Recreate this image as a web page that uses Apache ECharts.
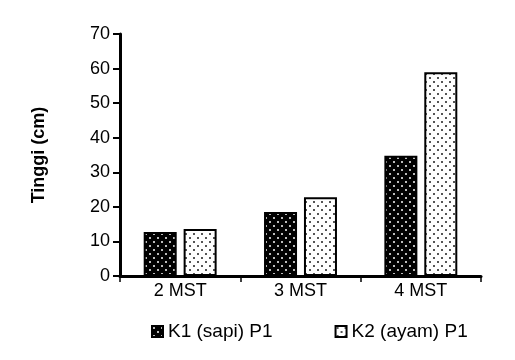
<!DOCTYPE html>
<html><head><meta charset="utf-8">
<script src="https://cdn.jsdelivr.net/npm/echarts@6/dist/echarts.min.js"></script>
<style>html,body{margin:0;padding:0;background:#fff}#c{width:515px;height:360px}</style>
</head><body><div id="c"></div>
<script>
const categories = ['2 MST', '3 MST', '4 MST'];
const k1Values = [12.7, 18.5, 34.8];
const k2Values = [13.6, 22.8, 58.9];
const seriesNames = ['K1 (sapi) P1', 'K2 (ayam) P1'];
const yMin = 0, yMax = 70, yStep = 10;
const yTitle = 'Tinggi (cm)';

function makePattern(bg, dot) {
  const c = document.createElement('canvas');
  c.width = 8; c.height = 8;
  const g = c.getContext('2d');
  g.fillStyle = bg; g.fillRect(0, 0, 8, 8);
  g.fillStyle = dot;
  g.fillRect(1, 1, 2, 2);
  g.fillRect(5, 5, 2, 2);
  return c;
}
const darkPat = { image: makePattern('#000', '#bbb'), repeat: 'repeat' };
const lightPat = { image: makePattern('#fff', '#555'), repeat: 'repeat' };
const FONT = 'Liberation Sans, Arial, sans-serif';

const chart = echarts.init(document.getElementById('c'), null, { renderer: 'canvas' });
chart.setOption({
  animation: false,
  backgroundColor: '#fff',
  grid: { left: 120, right: 34, top: 34, bottom: 84, containLabel: false },
  legend: {
    top: 317, left: 146, itemGap: 62, icon: 'rect',
    itemWidth: 11, itemHeight: 11,
    textStyle: { fontFamily: FONT, fontSize: 19, color: '#000' },
    data: seriesNames
  },
  xAxis: {
    type: 'category', data: categories,
    axisLine: { lineStyle: { color: '#000', width: 3 } },
    axisTick: { show: true, length: 6, lineStyle: { color: '#000', width: 1.5 } },
    axisLabel: { fontFamily: FONT, fontSize: 18, color: '#000', margin: 6 }
  },
  yAxis: {
    type: 'value', min: yMin, max: yMax, interval: yStep,
    name: yTitle, nameLocation: 'middle', nameGap: 72,
    nameTextStyle: { fontFamily: FONT, fontSize: 18, fontWeight: 'bold', color: '#000' },
    axisLine: { show: true, lineStyle: { color: '#000', width: 3 } },
    axisTick: { show: true, length: 7, lineStyle: { color: '#000', width: 2 } },
    splitLine: { show: false },
    axisLabel: { fontFamily: FONT, fontSize: 18, color: '#000', margin: 10 }
  },
  series: [
    { name: seriesNames[0], type: 'bar', data: k1Values, barWidth: 33, barGap: '21%',
      itemStyle: { color: darkPat, borderColor: '#000', borderWidth: 2 } },
    { name: seriesNames[1], type: 'bar', data: k2Values, barWidth: 33,
      itemStyle: { color: lightPat, borderColor: '#000', borderWidth: 2 } }
  ]
});
</script></body></html>
